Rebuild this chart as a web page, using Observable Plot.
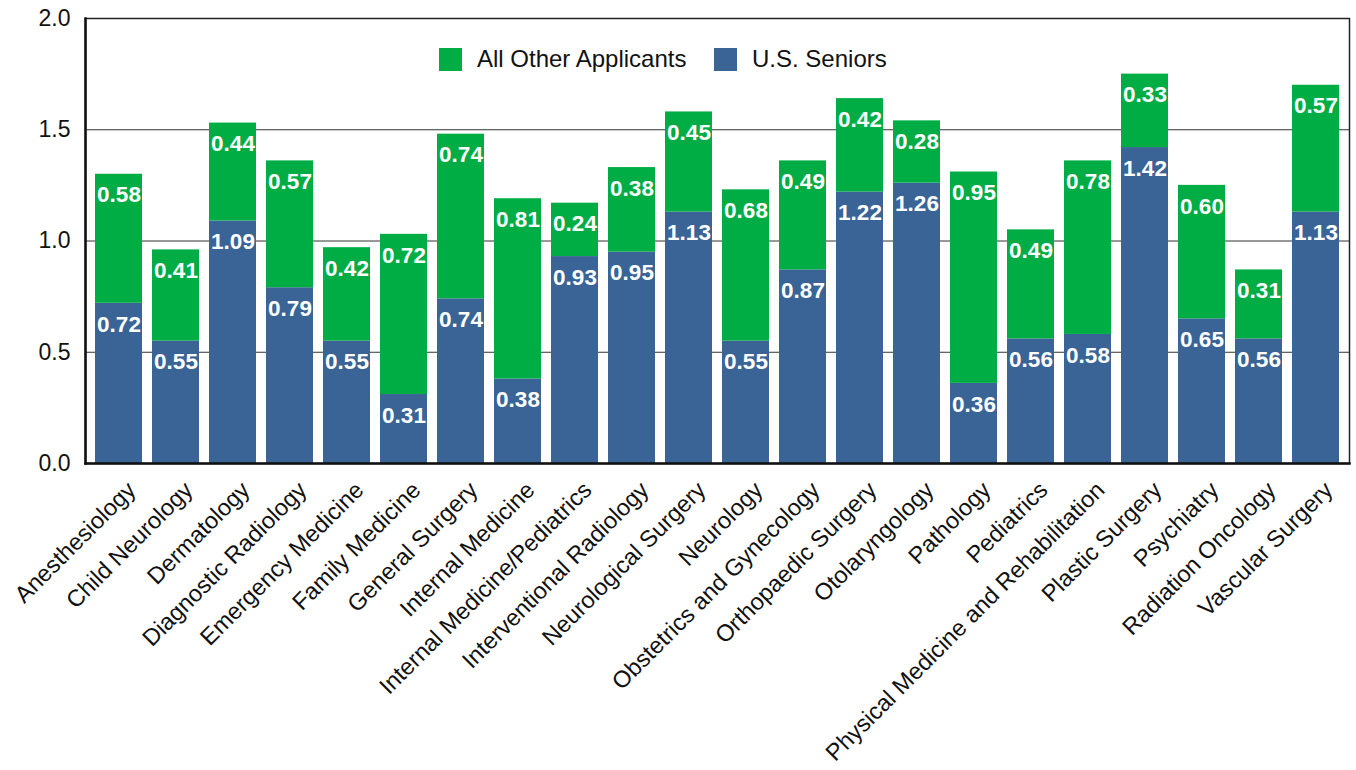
<!DOCTYPE html>
<html>
<head>
<meta charset="utf-8">
<script src="https://cdn.jsdelivr.net/npm/d3@7"></script>
<script src="https://cdn.jsdelivr.net/npm/@observablehq/plot@0.6"></script>
<style>
  html, body { margin: 0; padding: 0; background: #fff; }
  #wrap { position: relative; width: 1356px; height: 770px; font-family: "Liberation Sans", Arial, sans-serif; }
  .item { position: absolute; top: 47px; height: 24px; display: flex; align-items: center; font-size: 24px; color: #111; white-space: nowrap; }
  .sw { width: 23px; height: 23px; display: inline-block; margin-right: 15px; }
</style>
</head>
<body>
<div id="wrap"></div>
<script>
const specialties = ["Anesthesiology","Child Neurology","Dermatology","Diagnostic Radiology","Emergency Medicine","Family Medicine","General Surgery","Internal Medicine","Internal Medicine/Pediatrics","Interventional Radiology","Neurological Surgery","Neurology","Obstetrics and Gynecology","Orthopaedic Surgery","Otolaryngology","Pathology","Pediatrics","Physical Medicine and Rehabilitation","Plastic Surgery","Psychiatry","Radiation Oncology","Vascular Surgery"];
const usSeniors = [0.72,0.55,1.09,0.79,0.55,0.31,0.74,0.38,0.93,0.95,1.13,0.55,0.87,1.22,1.26,0.36,0.56,0.58,1.42,0.65,0.56,1.13];
const allOther = [0.58,0.41,0.44,0.57,0.42,0.72,0.74,0.81,0.24,0.38,0.45,0.68,0.49,0.42,0.28,0.95,0.49,0.78,0.33,0.60,0.31,0.57];
const seriesNames = ["All Other Applicants","U.S. Seniors"];
const seriesColors = ["#00AD45","#3A6496"];
const yTicks = [0,0.5,1.0,1.5,2.0];

const rows = specialties.map((s,i)=>({spec:s, us:usSeniors[i], other:allOther[i], total:usSeniors[i]+allOther[i]}));
const fmt = d3.format(".2f");
const font = "'Liberation Sans', Arial, sans-serif";

const chart = Plot.plot({
  width: 1356,
  height: 770,
  marginLeft: 85,
  marginRight: 7,
  marginTop: 18,
  marginBottom: 307,
  style: {fontFamily: font, color: "#111", background: "transparent"},
  x: {domain: specialties, paddingInner: 0.18, paddingOuter: 0.07, label: null, axis: null},
  y: {domain: [0,2], ticks: yTicks, label: null, axis: null},
  marks: [
    Plot.gridY(yTicks.filter(d=>d>0 && d<2), {stroke: "#333", strokeOpacity: 1, strokeWidth: 1}),
    Plot.barY(rows, {x: "spec", y1: 0, y2: "us", fill: seriesColors[1]}),
    Plot.barY(rows, {x: "spec", y1: "us", y2: "total", fill: seriesColors[0]}),
    Plot.text(rows, {x: "spec", y: "us", text: d=>fmt(d.us), dy: 21, fill: "white", fontWeight: "bold", fontSize: 22.5}),
    Plot.text(rows, {x: "spec", y: "total", text: d=>fmt(d.other), dy: 21, fill: "white", fontWeight: "bold", fontSize: 22.5}),
    Plot.frame({stroke: "#222", strokeWidth: 1.5}),
    Plot.frame({anchor: "left", stroke: "#111", strokeWidth: 2.5}),
    Plot.frame({anchor: "bottom", stroke: "#111", strokeWidth: 2.5}),
    Plot.text(yTicks, {y: d=>d, text: d=>d3.format(".1f")(d), frameAnchor: "left", textAnchor: "end", dx: -15, fontSize: 23, fill: "#111"}),
    Plot.text(specialties, {x: d=>d, text: d=>d, frameAnchor: "bottom", rotate: -45, textAnchor: "end", dx: 18, dy: 28, fontSize: 23.5, fill: "#111"})
  ]
});
const wrap = document.getElementById("wrap");
wrap.appendChild(chart);
chart.style.position = "absolute";
chart.style.left = "0";
chart.style.top = "0";

const legendLeft = [439, 714];
seriesNames.forEach((n,i)=>{
  const it = document.createElement("div"); it.className = "item"; it.style.left = legendLeft[i] + "px";
  const sw = document.createElement("span"); sw.className = "sw"; sw.style.background = seriesColors[i];
  const t = document.createElement("span"); t.textContent = n;
  it.appendChild(sw); it.appendChild(t); wrap.appendChild(it);
});
</script>
</body>
</html>
